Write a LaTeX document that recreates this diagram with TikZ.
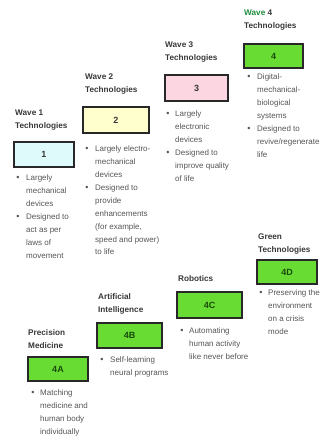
\documentclass[tikz,border=0pt]{standalone}
\usepackage{fontspec}
\setmainfont{Liberation Sans}
\definecolor{cyanfill}{RGB}{222,250,250}
\definecolor{yellowfill}{RGB}{255,255,206}
\definecolor{pinkfill}{RGB}{252,214,224}
\definecolor{greenfill}{RGB}{105,220,52}
\definecolor{boxedge}{RGB}{40,40,40}
\definecolor{headgray}{RGB}{55,55,55}
\definecolor{bodygray}{RGB}{85,85,85}
\definecolor{darkgreen}{RGB}{25,75,10}
\definecolor{wavegreen}{RGB}{30,140,60}
\tikzset{
  heading/.style={anchor=north west, inner sep=0pt, align=left, text=headgray,
    font=\fontsize{8.2}{13.2}\selectfont\bfseries},
  numbox/.style={draw=boxedge, line width=1.6pt, inner sep=0pt,
    font=\fontsize{9}{10}\selectfont\bfseries, text=headgray},
  greenbox/.style={numbox, fill=greenfill, text=darkgreen},
  itemtext/.style={anchor=north west, inner sep=0pt, align=left, text=bodygray,
    font=\fontsize{8}{12.9}\selectfont},
  dot/.style={inner sep=0pt, text=bodygray, font=\fontsize{9}{10}\selectfont}
}
\begin{document}
\begin{tikzpicture}[x=1pt, y=-1pt]
\useasboundingbox (0,0) rectangle (320,441);

% ---------- Wave 1 ----------
\node[heading] (w1) at (15,109.5) {Wave 1\\Technologies};
\node[numbox, fill=cyanfill, minimum width=60pt, minimum height=25pt] (b1) at (44,154.5) {1};
\node[dot] (w1d1) at (18,178) {•};
\node[itemtext] (w1i1) at (26,174.5) {Largely\\mechanical\\devices};
\node[dot] (w1d2) at (18,217) {•};
\node[itemtext] (w1i2) at (26,213.5) {Designed to\\act as per\\laws of\\movement};

% ---------- Wave 2 ----------
\node[heading] (w2) at (85,73.5) {Wave 2\\Technologies};
\node[numbox, fill=yellowfill, minimum width=66pt, minimum height=26pt] (b2) at (116,120) {2};
\node[dot] (w2d1) at (87,149) {•};
\node[itemtext] (w2i1) at (95,145.5) {Largely electro-\\mechanical\\devices};
\node[dot] (w2d2) at (87,188) {•};
\node[itemtext] (w2i2) at (95,184.5) {Designed to\\provide\\enhancements\\(for example,\\speed and power)\\to life};

% ---------- Wave 3 ----------
\node[heading] (w3) at (165,41.5) {Wave 3\\Technologies};
\node[numbox, fill=pinkfill, minimum width=63pt, minimum height=26pt] (b3) at (196.5,88) {3};
\node[dot] (w3d1) at (168,114) {•};
\node[itemtext] (w3i1) at (175,110.5) {Largely\\electronic\\devices};
\node[dot] (w3d2) at (168,153) {•};
\node[itemtext] (w3i2) at (175,149.5) {Designed to\\improve quality\\of life};

% ---------- Wave 4 ----------
\node[heading] (w4) at (244,9.5) {\textcolor{wavegreen}{Wave} 4\\Technologies};
\node[greenbox, minimum width=59pt, minimum height=24pt] (b4) at (273.5,56) {4};
\node[dot] (w4d1) at (249,77) {•};
\node[itemtext] (w4i1) at (257,73.5) {Digital-\\mechanical-\\biological\\systems};
\node[dot] (w4d2) at (249,129) {•};
\node[itemtext] (w4i2) at (257,125.5) {Designed to\\revive/regenerate\\life};

% ---------- Wave 4 branches ----------
\node[heading] (t4a) at (28,329.5) {Precision\\Medicine};
\node[greenbox, minimum width=60pt, minimum height=24pt] (b4a) at (58,369) {4A};
\node[dot] (d4a) at (33,393) {•};
\node[itemtext] (i4a) at (40,389.5) {Matching\\medicine and\\human body\\individually};

\node[heading] (t4b) at (98,293.5) {Artificial\\Intelligence};
\node[greenbox, minimum width=65pt, minimum height=25pt] (b4b) at (129.5,335.5) {4B};
\node[dot] (d4b) at (102,360) {•};
\node[itemtext] (i4b) at (110,356.5) {Self-learning\\neural programs};

\node[heading] (t4c) at (178,275.5) {Robotics};
\node[greenbox, minimum width=65pt, minimum height=26pt] (b4c) at (209.5,305) {4C};
\node[dot] (d4c) at (182,331) {•};
\node[itemtext] (i4c) at (189,327.5) {Automating\\human activity\\like never before};

\node[heading] (t4d) at (258,233.5) {Green\\Technologies};
\node[greenbox, minimum width=60pt, minimum height=24pt] (b4d) at (287,272) {4D};
\node[dot] (d4d) at (261,293) {•};
\node[itemtext] (i4d) at (268,289.5) {Preserving the\\environment\\on a crisis\\mode};
\end{tikzpicture}
\end{document}
